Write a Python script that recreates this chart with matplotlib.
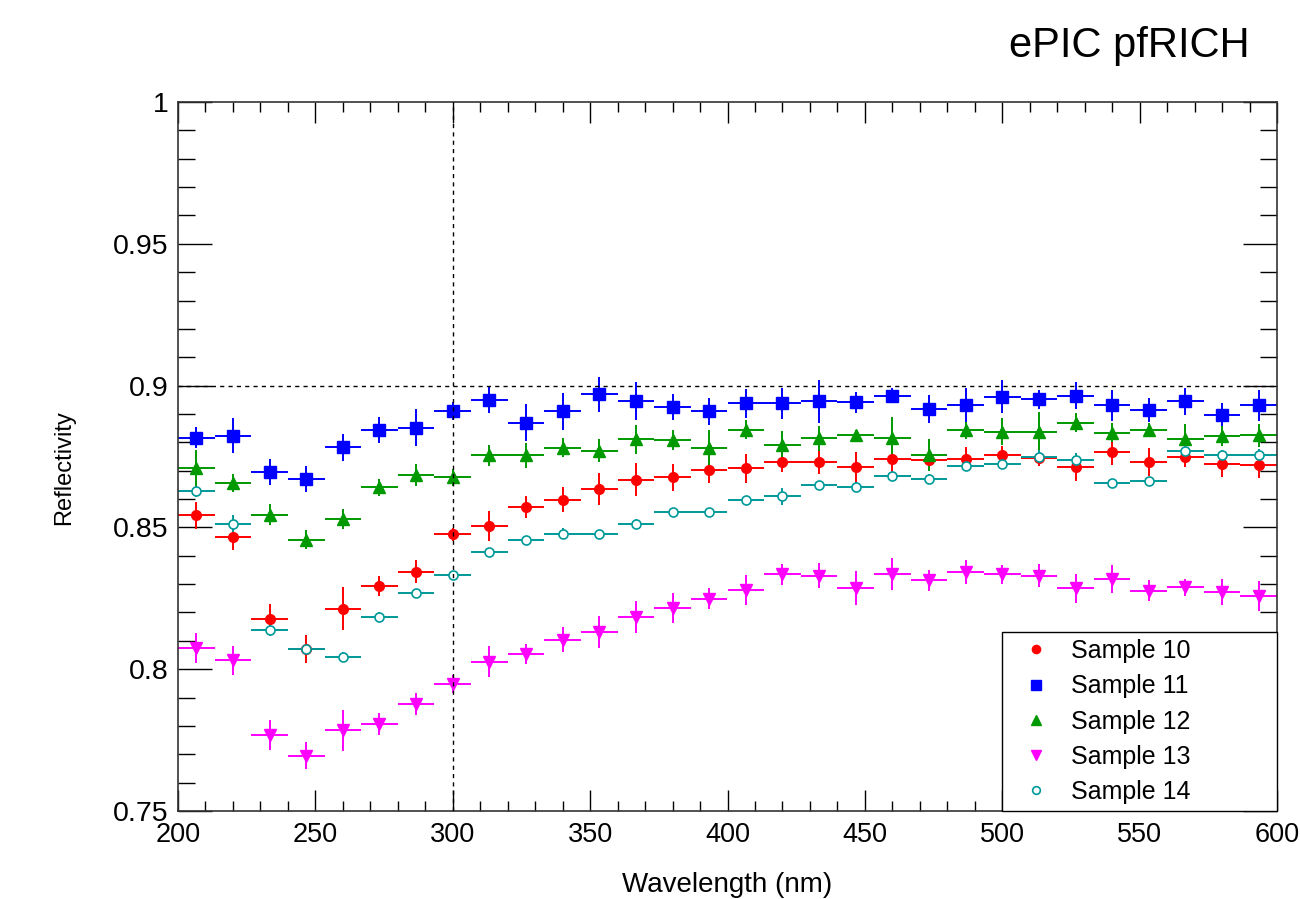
import matplotlib
matplotlib.use("Agg")
import matplotlib.pyplot as plt
from matplotlib.ticker import MultipleLocator, FixedLocator, FixedFormatter
from matplotlib.lines import Line2D

plt.rcParams['font.family'] = ['Liberation Sans', 'DejaVu Sans']

# ---- data ----
wavelength = [206.67, 220.00, 233.33, 246.67, 260.00, 273.33, 286.67, 300.00, 313.33, 326.67,
              340.00, 353.33, 366.67, 380.00, 393.33, 406.67, 420.00, 433.33, 446.67, 460.00,
              473.33, 486.67, 500.00, 513.33, 526.67, 540.00, 553.33, 566.67, 580.00, 593.33]
bin_half_width = 6.667

sample10 = [0.8543, 0.8465, 0.8178, 0.8071, 0.8214, 0.8292, 0.8344, 0.8475, 0.8506, 0.8571,
            0.8598, 0.8636, 0.8668, 0.8676, 0.8704, 0.8708, 0.8732, 0.8732, 0.8712, 0.8742,
            0.8739, 0.8742, 0.8756, 0.8745, 0.8712, 0.8765, 0.8732, 0.8749, 0.8724, 0.8719]
err10 = [0.0048, 0.0046, 0.0053, 0.0050, 0.0075, 0.0035, 0.0040, 0.0024, 0.0053, 0.0038,
         0.0045, 0.0056, 0.0058, 0.0046, 0.0047, 0.0051, 0.0036, 0.0042, 0.0055, 0.0045,
         0.0035, 0.0040, 0.0030, 0.0030, 0.0047, 0.0044, 0.0049, 0.0035, 0.0047, 0.0044]

sample11 = [0.8816, 0.8824, 0.8695, 0.8671, 0.8783, 0.8843, 0.8851, 0.8909, 0.8949, 0.8869,
            0.8909, 0.8969, 0.8945, 0.8924, 0.8909, 0.8937, 0.8937, 0.8944, 0.8941, 0.8965,
            0.8918, 0.8930, 0.8961, 0.8951, 0.8965, 0.8930, 0.8914, 0.8945, 0.8898, 0.8930]
err11 = [0.0037, 0.0063, 0.0046, 0.0046, 0.0048, 0.0045, 0.0065, 0.0032, 0.0047, 0.0065,
         0.0065, 0.0062, 0.0066, 0.0047, 0.0047, 0.0050, 0.0055, 0.0075, 0.0037, 0.0028,
         0.0050, 0.0060, 0.0059, 0.0032, 0.0047, 0.0054, 0.0042, 0.0047, 0.0040, 0.0056]

sample12 = [0.8708, 0.8657, 0.8545, 0.8457, 0.8530, 0.8642, 0.8685, 0.8677, 0.8754, 0.8754,
            0.8781, 0.8771, 0.8810, 0.8807, 0.8781, 0.8845, 0.8792, 0.8814, 0.8825, 0.8814,
            0.8755, 0.8842, 0.8837, 0.8837, 0.8869, 0.8834, 0.8845, 0.8810, 0.8822, 0.8825]
err12 = [0.0065, 0.0031, 0.0037, 0.0034, 0.0034, 0.0030, 0.0040, 0.0030, 0.0037, 0.0044,
         0.0034, 0.0040, 0.0050, 0.0035, 0.0063, 0.0035, 0.0048, 0.0045, 0.0020, 0.0075,
         0.0056, 0.0030, 0.0047, 0.0071, 0.0034, 0.0034, 0.0024, 0.0053, 0.0036, 0.0040]

sample13 = [0.8074, 0.8031, 0.7768, 0.7695, 0.7784, 0.7807, 0.7877, 0.7949, 0.8027, 0.8053,
            0.8104, 0.8131, 0.8184, 0.8216, 0.8249, 0.8280, 0.8334, 0.8330, 0.8285, 0.8336,
            0.8313, 0.8343, 0.8334, 0.8330, 0.8285, 0.8318, 0.8277, 0.8289, 0.8273, 0.8257]
err13 = [0.0052, 0.0050, 0.0053, 0.0047, 0.0071, 0.0038, 0.0040, 0.0032, 0.0056, 0.0035,
         0.0045, 0.0055, 0.0055, 0.0053, 0.0036, 0.0052, 0.0038, 0.0043, 0.0060, 0.0055,
         0.0038, 0.0042, 0.0034, 0.0040, 0.0051, 0.0051, 0.0037, 0.0030, 0.0045, 0.0053]

sample14 = [0.8627, 0.8512, 0.8138, 0.8071, 0.8044, 0.8185, 0.8267, 0.8332, 0.8412, 0.8456,
            0.8478, 0.8475, 0.8513, 0.8553, 0.8553, 0.8595, 0.8610, 0.8648, 0.8644, 0.8680,
            0.8672, 0.8716, 0.8724, 0.8748, 0.8737, 0.8656, 0.8663, 0.8768, 0.8757, 0.8757]
err14 = [0.0020, 0.0030, 0.0022, 0.0015, 0.0015, 0.0015, 0.0015, 0.0015, 0.0015, 0.0015,
         0.0020, 0.0015, 0.0015, 0.0015, 0.0015, 0.0015, 0.0030, 0.0015, 0.0015, 0.0015,
         0.0015, 0.0015, 0.0015, 0.0025, 0.0027, 0.0015, 0.0015, 0.0020, 0.0015, 0.0018]

labels = ["Sample 10", "Sample 11", "Sample 12", "Sample 13", "Sample 14"]
x_ticks = [200, 250, 300, 350, 400, 450, 500, 550, 600]
y_ticks = [0.75, 0.80, 0.85, 0.90, 0.95, 1.00]
y_tick_labels = ["0.75", "0.8", "0.85", "0.9", "0.95", "1"]

series = [sample10, sample11, sample12, sample13, sample14]
errors = [err10, err11, err12, err13, err14]
styles = [
    dict(color="#ff0000", marker="o", ms=7.0, mfc="#ff0000", mew=1.0),
    dict(color="#0000ff", marker="s", ms=8.0, mfc="#0000ff", mew=1.0),
    dict(color="#009900", marker="^", ms=8.5, mfc="#009900", mew=1.0),
    dict(color="#ff00ff", marker="v", ms=8.5, mfc="#ff00ff", mew=1.0),
    dict(color="#009999", marker="o", ms=6.5, mfc="white", mew=1.2),
]

fig = plt.figure(figsize=(13.0, 8.99), dpi=100)
ax = fig.add_axes([178 / 1300, 1 - 811 / 899, (1277 - 178) / 1300, (811 - 102) / 899])

handles = []
for vals, errs, st, lab in zip(series, errors, styles, labels):
    ax.errorbar(wavelength, vals, yerr=errs, xerr=bin_half_width, fmt="none",
                ecolor=st["color"], elinewidth=1.4, capsize=0, zorder=2)
    ax.plot(wavelength, vals, linestyle="none", marker=st["marker"], ms=st["ms"],
            mfc=st["mfc"], mec=st["color"], mew=st["mew"], zorder=3)
    handles.append(Line2D([], [], linestyle="none", marker=st["marker"], ms=st["ms"] * 0.85,
                          mfc=st["mfc"], mec=st["color"], mew=st["mew"], label=lab))

# reference lines
ax.axvline(300, color="black", lw=1.0, linestyle=(0, (3, 3)), zorder=4)
ax.axhline(0.9, color="black", lw=1.0, linestyle=(0, (3, 3)), zorder=4)

ax.set_xlim(200, 600)
ax.set_ylim(0.75, 1.0)
ax.xaxis.set_major_locator(FixedLocator(x_ticks))
ax.xaxis.set_minor_locator(MultipleLocator(10))
ax.yaxis.set_major_locator(FixedLocator(y_ticks))
ax.yaxis.set_major_formatter(FixedFormatter(y_tick_labels))
ax.yaxis.set_minor_locator(MultipleLocator(0.01))

ax.tick_params(which="both", direction="in", top=True, right=True, width=1.0, colors="black")
ax.tick_params(axis="x", which="major", length=15, pad=8, labelsize=19.5)
ax.tick_params(axis="x", which="minor", length=7.5)
ax.tick_params(axis="y", which="major", length=24.5, pad=7, labelsize=20.5)
ax.tick_params(axis="y", which="minor", length=12)
for sp in ax.spines.values():
    sp.set_linewidth(1.2)
    sp.set_color("#333333")

ax.set_xlabel("Wavelength (nm)", fontsize=20, labelpad=17)
ax.set_ylabel("Reflectivity", fontsize=17)
ax.yaxis.set_label_coords(-0.094, 0.485)

leg = ax.legend(handles=handles, loc="lower left",
                bbox_to_anchor=(0.7498, 0.0, 0.2502, 0.2514), mode="expand",
                fontsize=18, frameon=True, fancybox=False, framealpha=1.0,
                edgecolor="black", borderpad=0.28, labelspacing=0.45,
                handlelength=2.15, handletextpad=0.32, borderaxespad=0.0)
leg.get_frame().set_linewidth(1.0)
leg.set_zorder(5)

fig.text(1250 / 1300, 1 - 57 / 899, "ePIC pfRICH", ha="right", va="baseline", fontsize=30)

fig.savefig("out.png", dpi=100)
